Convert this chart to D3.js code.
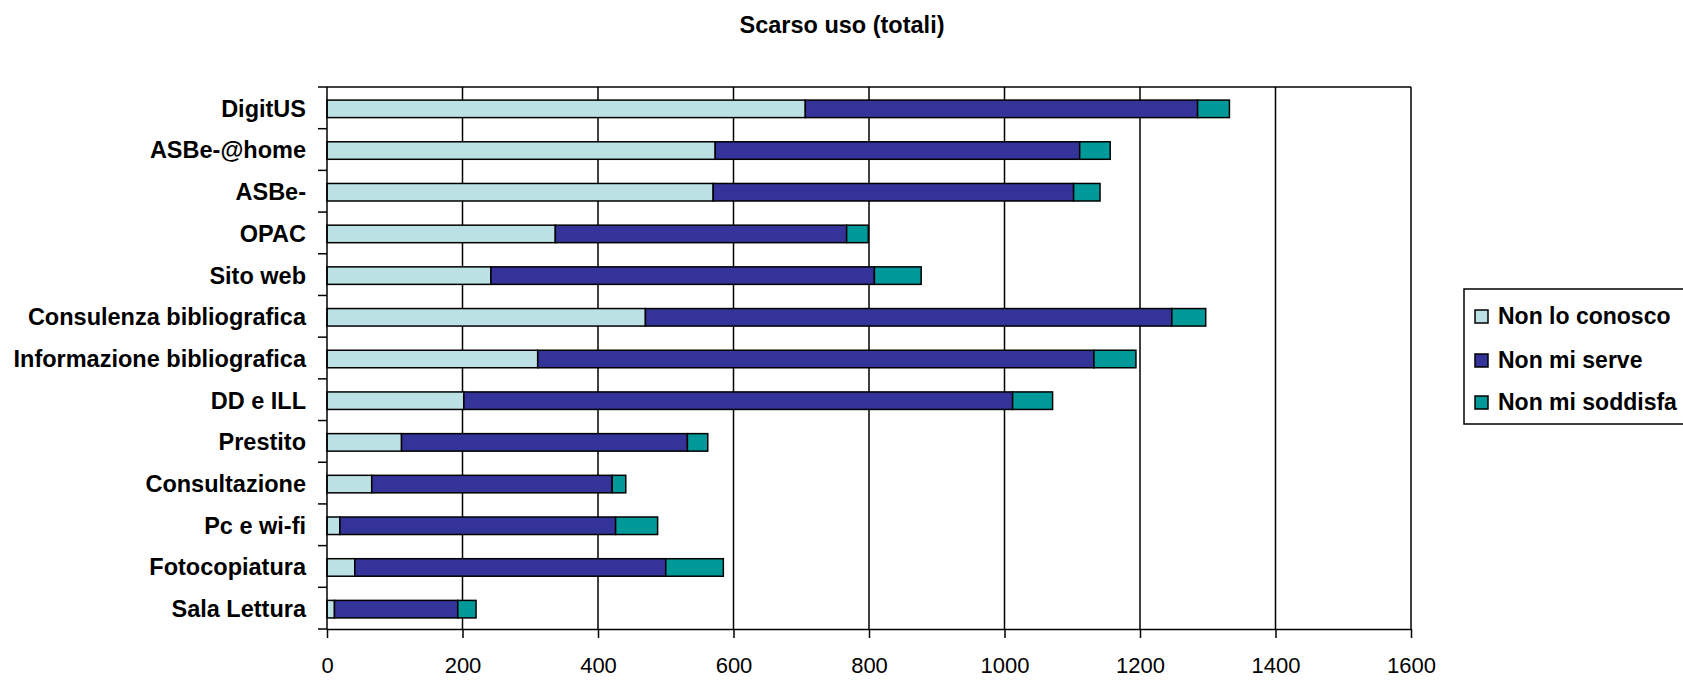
<!DOCTYPE html>
<html>
<head>
<meta charset="utf-8">
<script src="https://cdn.jsdelivr.net/npm/d3@7"></script>
<style>
  html, body { margin: 0; padding: 0; background: #fff; }
  svg { display: block; font-family: "Liberation Sans", Arial, sans-serif; }
</style>
</head>
<body>
<svg id="chart" width="1683" height="680"></svg>
<script>
// Services with low usage, split by reason (totals)
const categories = [
  "DigitUS", "ASBe-@home", "ASBe-", "OPAC", "Sito web",
  "Consulenza bibliografica", "Informazione bibliografica", "DD e ILL",
  "Prestito", "Consultazione", "Pc e wi-fi", "Fotocopiatura", "Sala Lettura"
];
const nonLoConosco  = [706, 573, 570, 337, 242, 470, 311, 202, 110, 66, 19, 41, 11];
const nonMiServe    = [579, 538, 532, 430, 566, 777, 821, 810, 422, 355, 407, 459, 182];
const nonMiSoddisfa = [47, 45, 39, 32, 69, 50, 62, 59, 30, 20, 62, 85, 27];

const seriesNames  = ["Non lo conosco", "Non mi serve", "Non mi soddisfa"];
const seriesColors = ["#BBE1E4", "#333399", "#009999"];
const xTicks = [0, 200, 400, 600, 800, 1000, 1200, 1400, 1600];
const title = "Scarso uso (totali)";

const svg = d3.select("#chart");
const plot = { left: 327, right: 1411, top: 87, bottom: 629 };

const x = d3.scaleLinear().domain([0, 1600]).range([plot.left, plot.right]);
const y = d3.scaleBand().domain(categories).range([plot.top, plot.bottom]).paddingInner(0).paddingOuter(0);

// rows for the stack
const rows = categories.map((c, i) => ({
  cat: c,
  [seriesNames[0]]: nonLoConosco[i],
  [seriesNames[1]]: nonMiServe[i],
  [seriesNames[2]]: nonMiSoddisfa[i]
}));
const stacked = d3.stack().keys(seriesNames)(rows);

// title
svg.append("text")
  .attr("x", 842).attr("y", 33)
  .attr("text-anchor", "middle")
  .attr("font-size", 23.5).attr("font-weight", "bold")
  .text(title);

// vertical gridlines
svg.append("g").selectAll("line")
  .data(xTicks.slice(1))
  .join("line")
  .attr("x1", d => x(d)).attr("x2", d => x(d))
  .attr("y1", plot.top).attr("y2", plot.bottom)
  .attr("stroke", "#000").attr("stroke-width", 1.5);

// top border
svg.append("line")
  .attr("x1", plot.left).attr("x2", plot.right)
  .attr("y1", plot.top).attr("y2", plot.top)
  .attr("stroke", "#000").attr("stroke-width", 1.5);

// bars
const barH = y.bandwidth() * 0.42;
const barOff = (y.bandwidth() - barH) / 2 + 1;
svg.append("g").selectAll("g")
  .data(stacked)
  .join("g")
  .attr("fill", (d, i) => seriesColors[i])
  .selectAll("rect")
  .data(d => d)
  .join("rect")
  .attr("x", d => x(d[0]))
  .attr("width", d => x(d[1]) - x(d[0]))
  .attr("y", d => y(d.data.cat) + barOff)
  .attr("height", barH)
  .attr("stroke", "#000").attr("stroke-width", 1.5);

// x axis
const xAxis = d3.axisBottom(x)
  .tickValues(xTicks)
  .tickFormat(d3.format("d"))
  .tickSize(9).tickSizeOuter(0).tickPadding(19);
const gx = svg.append("g").attr("transform", `translate(0,${plot.bottom})`).call(xAxis);
gx.select(".domain").attr("stroke", "#000").attr("stroke-width", 1.5);
gx.selectAll(".tick line").attr("stroke", "#000").attr("stroke-width", 1.5);
gx.selectAll(".tick text")
  .attr("font-family", "Liberation Sans, Arial, sans-serif")
  .attr("font-size", 22).attr("fill", "#000");

// y axis: category labels, ticks between categories
const yAxis = d3.axisLeft(y).tickSize(0).tickPadding(21);
const gy = svg.append("g").attr("transform", `translate(${plot.left},0)`).call(yAxis);
gy.select(".domain").remove();
gy.selectAll(".tick text")
  .attr("font-family", "Liberation Sans, Arial, sans-serif")
  .attr("font-size", 23.5).attr("font-weight", "bold").attr("fill", "#000")
  .attr("dy", "0.38em");

svg.append("line")
  .attr("x1", plot.left).attr("x2", plot.left)
  .attr("y1", plot.top).attr("y2", plot.bottom)
  .attr("stroke", "#000").attr("stroke-width", 1.5);

const bounds = d3.range(categories.length + 1).map(i => plot.top + i * y.step());
svg.append("g").selectAll("line")
  .data(bounds)
  .join("line")
  .attr("x1", plot.left - 9).attr("x2", plot.left)
  .attr("y1", d => d).attr("y2", d => d)
  .attr("stroke", "#000").attr("stroke-width", 1.5);

// legend
const legend = svg.append("g");
legend.append("rect")
  .attr("x", 1464).attr("y", 289)
  .attr("width", 260).attr("height", 135)
  .attr("fill", "#fff").attr("stroke", "#000").attr("stroke-width", 1.5);
const rowsY = [316, 360, 402];
const items = legend.selectAll("g.item")
  .data(seriesNames)
  .join("g")
  .attr("class", "item")
  .attr("transform", (d, i) => `translate(1475,${rowsY[i]})`);
items.append("rect")
  .attr("x", 0).attr("y", -6).attr("width", 13).attr("height", 13)
  .attr("fill", (d, i) => seriesColors[i])
  .attr("stroke", "#000").attr("stroke-width", 1.5);
items.append("text")
  .attr("x", 23).attr("y", 0).attr("dy", "0.36em")
  .attr("font-size", 23).attr("font-weight", "bold")
  .text(d => d);
</script>
</body>
</html>
